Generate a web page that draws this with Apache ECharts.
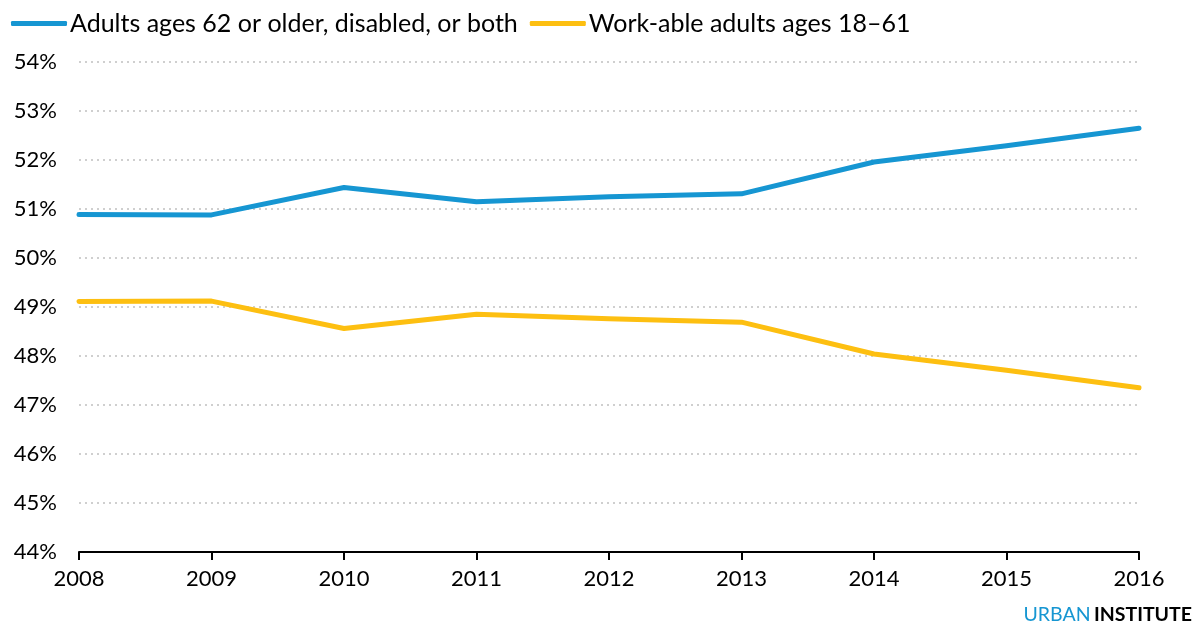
<!DOCTYPE html>
<html><head><meta charset="utf-8">
<script src="https://cdn.jsdelivr.net/npm/echarts@6/dist/echarts.min.js"></script>
<style>html,body{margin:0;padding:0;background:#fff}#c{width:1201px;height:628px}</style>
</head><body><div id="c"></div>
<script>
const years = ['2008','2009','2010','2011','2012','2013','2014','2015','2016'];
const olderDisabled = [50.89, 50.88, 51.44, 51.15, 51.25, 51.31, 51.96, 52.29, 52.65];
const workAble = [49.11, 49.12, 48.56, 48.85, 48.76, 48.69, 48.04, 47.71, 47.35];
const seriesNames = ['Adults ages 62 or older, disabled, or both', 'Work-able adults ages 18\u201361'];
const FONT = 'Lato, "Noto Sans", sans-serif';
const chart = echarts.init(document.getElementById('c'));
chart.setOption({
  animation: false,
  textStyle: {fontFamily: FONT},
  legend: {
    left: 6, top: 6, itemWidth: 56, itemHeight: 5, itemGap: 12, icon: 'roundRect',
    textStyle: {fontSize: 25, color: '#000', fontFamily: FONT, padding: [0,0,0,-2]},
    data: seriesNames
  },
  grid: {left: 79, right: 62, top: 62, bottom: 76},
  xAxis: {
    type: 'category', data: years, boundaryGap: false,
    axisLine: {lineStyle: {color: '#000', width: 2}},
    axisTick: {show: true, length: 8, lineStyle: {color: '#000', width: 2}},
    axisLabel: {fontSize: 22, color: '#000', margin: 16, fontFamily: FONT},
    splitLine: {show: false}
  },
  yAxis: {
    type: 'value', min: 44, max: 54, interval: 1,
    axisLine: {show: false}, axisTick: {show: false},
    axisLabel: {fontSize: 22, color: '#000', margin: 22, fontFamily: FONT, formatter: v => v + '%'},
    splitLine: {lineStyle: {color: '#cfcfcf', type: [2, 4], width: 2}}
  },
  series: [
    {name: seriesNames[0], type: 'line', data: olderDisabled, symbol: 'none', color: '#1696d2',
     lineStyle: {width: 5, cap: 'round', join: 'round'}},
    {name: seriesNames[1], type: 'line', data: workAble, symbol: 'none', color: '#fdbf11',
     lineStyle: {width: 5, cap: 'round', join: 'round'}}
  ],
  graphic: [{
    type: 'text', right: 9, top: 605,
    style: {
      text: '{a|URBAN} {b|INSTITUTE}',
      rich: {
        a: {fontSize: 19.5, fill: '#1696d2', fontFamily: FONT},
        b: {fontSize: 19.5, fill: '#000', fontWeight: 'bold', fontFamily: FONT}
      }
    }
  }]
});
</script></body></html>
